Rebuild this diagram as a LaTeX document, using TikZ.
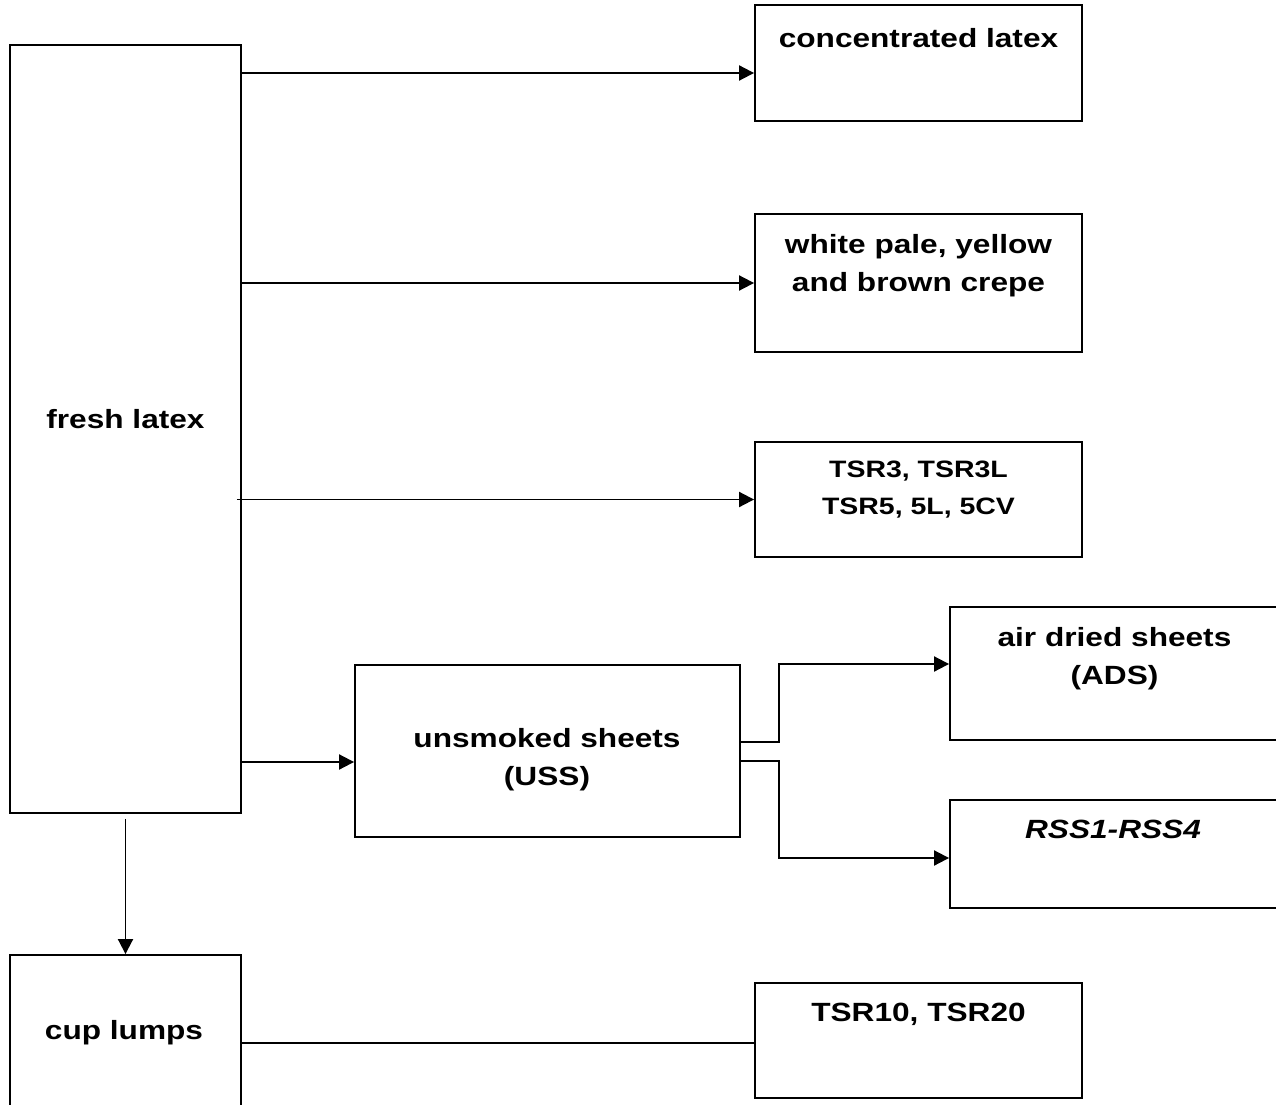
\documentclass[tikz,border=0pt]{standalone}
\usepackage{fontspec}
\setmainfont{Liberation Sans}[FakeStretch=1.2]
\usetikzlibrary{arrows.meta,calc}
\tikzset{
	box/.style={draw,line width=1.1pt,inner sep=0pt},
	txt/.style={anchor=north,align=center,inner sep=0pt,font=\bfseries\fontsize{15}{21.5}\selectfont},
	arr/.style={line width=1.1pt,-{Triangle[length=0.3cm,width=0.3cm]}},
	lin/.style={line width=1.1pt}
}
\begin{document}
\begin{tikzpicture}[x=0.02cm,y=-0.02cm]
	\useasboundingbox (0,0) rectangle (1276,1105);
	\clip (0,0) rectangle (1276,1105);
	% boxes (units are pixels of the drawing, y downwards)
	\node[box,minimum width=4.62cm,minimum height=15.36cm] (fresh) at (125.5,429) {};
	\node[box,minimum width=6.54cm,minimum height=2.32cm] (conc) at (918.5,63) {};
	\node[box,minimum width=6.54cm,minimum height=2.76cm] (crepe) at (918.5,283) {};
	\node[box,minimum width=6.54cm,minimum height=2.3cm] (tsr) at (918.5,499.5) {};
	\node[box,minimum width=7.7cm,minimum height=3.44cm] (uss) at (547.5,751) {};
	\node[box,minimum width=6.58cm,minimum height=2.66cm] (ads) at (1114.5,673.5) {};
	\node[box,minimum width=6.58cm,minimum height=2.16cm] (rss) at (1114.5,854) {};
	\node[box,minimum width=4.62cm,minimum height=3.4cm] (cup) at (125.5,1040) {};
	\node[box,minimum width=6.54cm,minimum height=2.3cm] (tsrx) at (918.5,1040.5) {};
	% texts
	\node[txt] (fresh-t) at (125.5,409) {fresh latex};
	\node[txt] (conc-t) at (918.5,28) {concentrated latex};
	\node[txt] (crepe-t) at (918.5,234) {white pale, yellow\\and brown crepe};
	\node[txt,font=\bfseries\fontsize{13.5}{21}\selectfont] (tsr-t) at (918.5,461) {TSR3, TSR3L\\TSR5, 5L, 5CV};
	\node[txt] (uss-t) at (547,728) {unsmoked sheets\\(USS)};
	\node[txt] (ads-t) at (1114.5,627) {air dried sheets\\(ADS)};
	\node[txt,font=\bfseries\itshape\fontsize{15}{21.5}\selectfont] (rss-t) at (1113,820) {RSS1-RSS4};
	\node[txt] (cup-t) at (124,1020) {cup lumps};
	\node[txt] (tsrx-t) at (918.5,1003) {TSR10, TSR20};
	% connectors
	\draw[arr] ($(fresh.east |- conc.west)+(0,10)$) -- ($(conc.west)+(0,10)$);
	\draw[arr] (fresh.east |- crepe.west) -- (crepe.west);
	\draw[arr] ($(fresh.east |- tsr.west)+(-5,0)$) -- (tsr.west);
	\draw[arr] ($(fresh.east |- uss.west)+(0,11)$) -- ($(uss.west)+(0,11)$);
	\draw[arr] ($(fresh.south)+(0,5)$) -- (cup.north);
	\draw[arr] ($(uss.east)+(0,-9)$) -- ++(38,0) |- ($(ads.west)+(0,-9.5)$);
	\draw[arr] ($(uss.east)+(0,10)$) -- ++(38,0) |- ($(rss.west)+(0,4)$);
	\draw[lin] ($(cup.east)+(0,3)$) -- ($(cup.east -| tsrx.west)+(0,3)$);
\end{tikzpicture}
\end{document}
